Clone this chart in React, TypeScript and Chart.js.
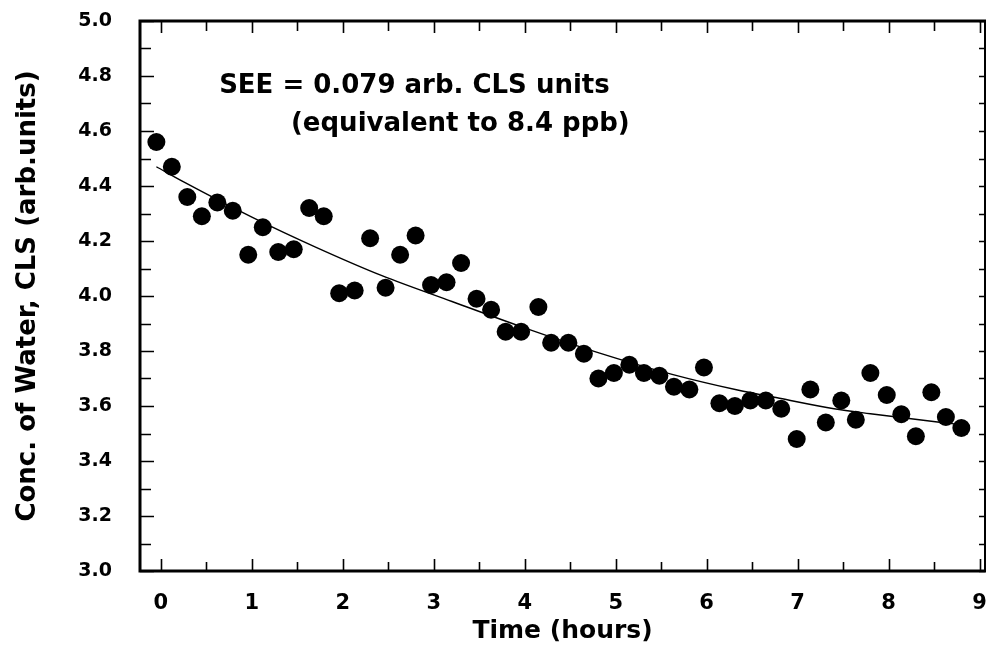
import React, { useEffect, useRef } from "react";
import { Chart, registerables } from "chart.js";

Chart.register(...registerables);

// Measured water concentration (CLS arb. units) vs time (hours)
const times = [
  -0.05, 0.12, 0.29, 0.45, 0.62, 0.79, 0.96, 1.12, 1.29, 1.46, 1.63, 1.79, 1.96,
  2.13, 2.3, 2.47, 2.63, 2.8, 2.97, 3.14, 3.3, 3.47, 3.63, 3.79, 3.96, 4.15, 4.29,
  4.48, 4.65, 4.81, 4.98, 5.15, 5.31, 5.48, 5.64, 5.81, 5.97, 6.14, 6.31, 6.48,
  6.65, 6.82, 6.99, 7.14, 7.31, 7.48, 7.64, 7.8, 7.98, 8.14, 8.3, 8.47, 8.63, 8.8,
];
const concentrations = [
  4.56, 4.47, 4.36, 4.29, 4.34, 4.31, 4.15, 4.25, 4.16, 4.17, 4.32, 4.29, 4.01,
  4.02, 4.21, 4.03, 4.15, 4.22, 4.04, 4.05, 4.12, 3.99, 3.95, 3.87, 3.87, 3.96,
  3.83, 3.83, 3.79, 3.7, 3.72, 3.75, 3.72, 3.71, 3.67, 3.66, 3.74, 3.61, 3.6,
  3.62, 3.62, 3.59, 3.48, 3.66, 3.54, 3.62, 3.55, 3.72, 3.64, 3.57, 3.49, 3.65,
  3.56, 3.52,
];

// Fitted curve
const fitTimes = [-0.05, 0.25, 1.0, 1.7, 2.43, 3.2, 3.99, 4.78, 5.62, 6.34, 6.8, 7.4, 7.8, 8.56, 8.8];
const fitValues = [4.47, 4.415, 4.287, 4.178, 4.074, 3.98, 3.885, 3.797, 3.715, 3.658, 3.628, 3.59, 3.572, 3.541, 3.532];

// Axes
const xTickValues = [0, 1, 2, 3, 4, 5, 6, 7, 8, 9];
const xHalfTicks = [0.5, 1.5, 2.5, 3.5, 4.5, 5.5, 6.5, 7.5, 8.5];
const yTickValues = [3.0, 3.2, 3.4, 3.6, 3.8, 4.0, 4.2, 4.4, 4.6, 4.8, 5.0];
const yMinorTicks = [3.1, 3.3, 3.5, 3.7, 3.9, 4.1, 4.3, 4.5, 4.7, 4.9];

const xTitle = "Time (hours)";
const yTitle = "Conc. of Water, CLS (arb.units)";

// Annotation text and its anchor (data units)
const noteLines = ["SEE = 0.079 arb. CLS units", "(equivalent to 8.4 ppb)"];
const noteX = [0.64, 1.43];
const noteY = [4.738, 4.6];

const FONT = "DejaVu Sans";

const framePlugin = {
  id: "framePlugin",
  afterDatasetsDraw(chart: any) {
    const { ctx, chartArea, scales } = chart;
    const { left, right, top, bottom } = chartArea;
    const xs = scales.x;
    const ys = scales.y;
    ctx.save();
    ctx.strokeStyle = "#000";
    ctx.fillStyle = "#000";
    ctx.lineCap = "butt";

    // inward tick marks
    ctx.lineWidth = 1.6;
    ctx.beginPath();
    xTickValues.forEach((v) => {
      const p = Math.round(xs.getPixelForValue(v)) + 0.5;
      ctx.moveTo(p, bottom);
      ctx.lineTo(p, bottom - 12);
      ctx.moveTo(p, top);
      ctx.lineTo(p, top + 12);
    });
    xHalfTicks.forEach((v) => {
      const p = Math.round(xs.getPixelForValue(v)) + 0.5;
      ctx.moveTo(p, bottom);
      ctx.lineTo(p, bottom - 9);
      ctx.moveTo(p, top);
      ctx.lineTo(p, top + 10);
    });
    yTickValues.forEach((v) => {
      const p = Math.round(ys.getPixelForValue(v)) + 0.5;
      ctx.moveTo(left, p);
      ctx.lineTo(left + 14, p);
      ctx.moveTo(right, p);
      ctx.lineTo(right - 6, p);
    });
    yMinorTicks.forEach((v) => {
      const p = Math.round(ys.getPixelForValue(v)) + 0.5;
      ctx.moveTo(left, p);
      ctx.lineTo(left + 11, p);
      ctx.moveTo(right, p);
      ctx.lineTo(right - 6, p);
    });
    ctx.stroke();

    // frame
    ctx.lineWidth = 3;
    ctx.beginPath();
    ctx.moveTo(left, top - 1);
    ctx.lineTo(left, bottom + 1.5);
    ctx.moveTo(left - 1.5, bottom);
    ctx.lineTo(right + 1, bottom);
    ctx.moveTo(left - 1.5, top);
    ctx.lineTo(right + 1, top);
    ctx.stroke();
    ctx.lineWidth = 2;
    ctx.beginPath();
    ctx.moveTo(right, top);
    ctx.lineTo(right, bottom);
    ctx.stroke();

    // annotation
    ctx.font = `bold 26px "${FONT}"`;
    ctx.textAlign = "left";
    ctx.textBaseline = "alphabetic";
    noteLines.forEach((t, i) => {
      ctx.fillText(t, xs.getPixelForValue(noteX[i]), ys.getPixelForValue(noteY[i]));
    });
    ctx.restore();
  },
};

export default function App() {
  const canvasRef = useRef<HTMLCanvasElement | null>(null);

  useEffect(() => {
    if (!canvasRef.current) return;
    const chart = new Chart(canvasRef.current, {
      type: "scatter",
      data: {
        datasets: [
          {
            label: "Measured",
            data: times.map((t, i) => ({ x: t, y: concentrations[i] })),
            pointRadius: 9,
            pointHoverRadius: 9,
            pointBackgroundColor: "#000",
            pointBorderColor: "#000",
            pointBorderWidth: 0,
            showLine: false,
          },
          {
            label: "Fit",
            data: fitTimes.map((t, i) => ({ x: t, y: fitValues[i] })),
            showLine: true,
            borderColor: "#000",
            borderWidth: 1.4,
            pointRadius: 0,
            pointHoverRadius: 0,
            cubicInterpolationMode: "monotone",
            fill: false,
          } as any,
        ],
      },
      options: {
        responsive: false,
        animation: false,
        devicePixelRatio: 1,
        layout: { padding: { top: 21, right: 2, left: 0, bottom: 0 } },
        plugins: {
          legend: { display: false },
          tooltip: { enabled: false },
        },
        scales: {
          x: {
            type: "linear",
            min: -0.23,
            max: 9.06,
            grid: { display: false },
            border: { display: false },
            afterBuildTicks: (s: any) => {
              s.ticks = xTickValues.map((v) => ({ value: v }));
            },
            afterFit: (s: any) => {
              s.height = 86;
              s.paddingLeft = 0;
              s.paddingRight = 0;
            },
            ticks: {
              padding: 12,
              color: "#000",
              autoSkip: false,
              maxRotation: 0,
              font: { family: FONT, weight: "bold", size: 21 },
              callback: (v: any) => String(v),
            },
            title: {
              display: true,
              text: xTitle,
              color: "#000",
              font: { family: FONT, weight: "bold", size: 25 },
              padding: { top: 0, bottom: 11 },
            },
          },
          y: {
            type: "linear",
            min: 3,
            max: 5,
            grid: { display: false },
            border: { display: false },
            afterBuildTicks: (s: any) => {
              s.ticks = yTickValues.map((v) => ({ value: v }));
            },
            afterFit: (s: any) => {
              s.width = 140;
              s.paddingTop = 0;
              s.paddingBottom = 0;
            },
            ticks: {
              padding: 20,
              color: "#000",
              autoSkip: false,
              font: { family: FONT, weight: "bold", size: 19 },
              callback: (v: any) => Number(v).toFixed(1),
            },
            title: {
              display: true,
              text: yTitle,
              color: "#000",
              font: { family: FONT, weight: "bold", size: 26 },
              padding: { top: 13, bottom: 0 },
            },
          },
        },
      },
      plugins: [framePlugin],
    });
    return () => chart.destroy();
  }, []);

  return (
    <div style={{ position: "absolute", left: 0, top: 0, width: 994, height: 657, background: "#fff" }}>
      <canvas ref={canvasRef} width={994} height={657} style={{ display: "block" }} />
    </div>
  );
}
